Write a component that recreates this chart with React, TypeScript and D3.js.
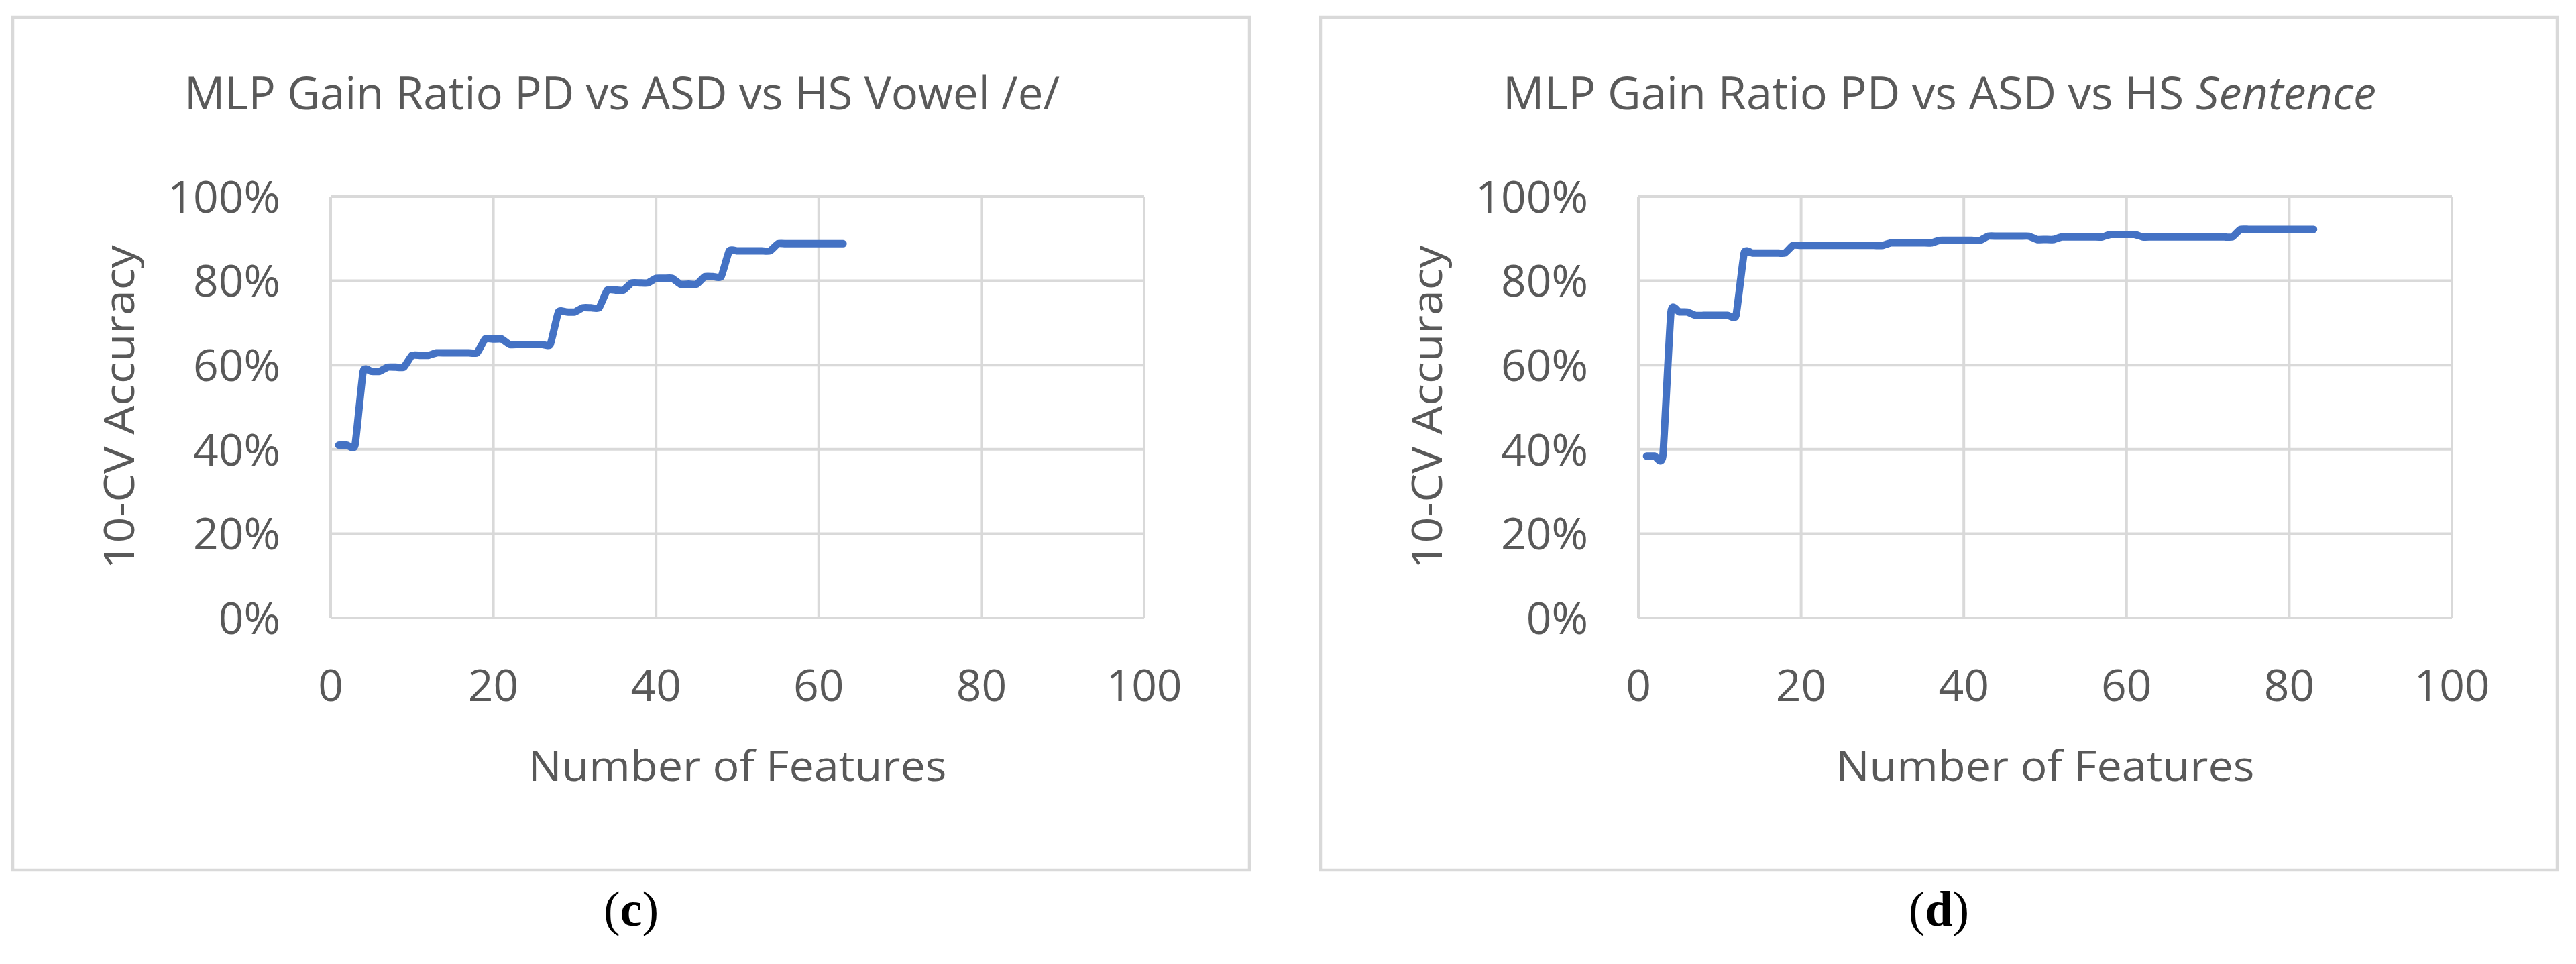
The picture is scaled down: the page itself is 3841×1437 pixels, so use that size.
import React from 'react';
import * as d3 from 'd3';

// 10-CV accuracy (%) for 1..N selected features
const vowelAccuracy = [
  41.0, 41.0, 41.0, 58.5, 58.5, 58.5, 59.5, 59.5, 59.5, 62.3,
  62.3, 62.3, 62.9, 62.9, 62.9, 62.9, 62.9, 62.9, 66.2, 66.2,
  66.2, 64.9, 64.9, 64.9, 64.9, 64.9, 64.9, 72.6, 72.6, 72.6,
  73.6, 73.6, 73.6, 77.8, 77.8, 77.8, 79.5, 79.5, 79.5, 80.6,
  80.6, 80.6, 79.2, 79.2, 79.2, 81.0, 81.0, 81.0, 87.1, 87.1,
  87.1, 87.1, 87.1, 87.1, 88.8, 88.8, 88.8, 88.8, 88.8, 88.8,
  88.8, 88.8, 88.8,
];

const sentenceAccuracy = [
  38.4, 38.4, 38.4, 72.6, 72.6, 72.6, 71.8, 71.8, 71.8, 71.8,
  71.8, 71.8, 86.6, 86.6, 86.6, 86.6, 86.6, 86.6, 88.4, 88.4,
  88.4, 88.4, 88.4, 88.4, 88.4, 88.4, 88.4, 88.4, 88.4, 88.4,
  89.0, 89.0, 89.0, 89.0, 89.0, 89.0, 89.6, 89.6, 89.6, 89.6,
  89.6, 89.6, 90.6, 90.6, 90.6, 90.6, 90.6, 90.6, 89.8, 89.8,
  89.8, 90.4, 90.4, 90.4, 90.4, 90.4, 90.4, 91.0, 91.0, 91.0,
  91.0, 90.4, 90.4, 90.4, 90.4, 90.4, 90.4, 90.4, 90.4, 90.4,
  90.4, 90.4, 90.4, 92.2, 92.2, 92.2, 92.2, 92.2, 92.2, 92.2,
  92.2, 92.2, 92.2,
];

const xTicks = [0, 20, 40, 60, 80, 100];
const yTicks = [0, 20, 40, 60, 80, 100];

const FONT = '"Open Sans", Calibri, sans-serif';
const TEXT = '#595959';
const GRID = '#d9d9d9';
const LINE = '#4472C4';

function Panel({ dx, data, title, titleX, titleLen, caption }) {
  const x = d3.scaleLinear().domain([0, 100]).range([493, 1706]);
  const y = d3.scaleLinear().domain([0, 100]).range([921, 293]);
  const pts = data.map((v, i) => [i + 1, v]);
  // excel-like smoothed line
  const line = d3.line()
    .x(d => x(d[0]))
    .y(d => y(d[1]))
    .curve(d3.curveCardinal.tension(0.55));

  return (
    <g transform={`translate(${dx},0)`}>
      <rect x={19} y={26} width={1844} height={1271} fill="#fff" stroke={GRID} strokeWidth={4.5} />
      <text x={titleX} y={163} fontFamily={FONT} fontSize={67} fill={TEXT}
        textLength={titleLen} lengthAdjust="spacingAndGlyphs">{title}</text>

      {yTicks.map(t => (
        <line key={'h' + t} x1={x(0)} x2={x(100)} y1={y(t)} y2={y(t)} stroke={GRID} strokeWidth={4} />
      ))}
      {xTicks.map(t => (
        <line key={'v' + t} x1={x(t)} x2={x(t)} y1={y(0)} y2={y(100)} stroke={GRID} strokeWidth={4} />
      ))}

      {yTicks.map(t => (
        <text key={'yl' + t} x={418} y={y(t)} dy="0.36em" textAnchor="end"
          fontFamily={FONT} fontSize={66} fill={TEXT}>{t + '%'}</text>
      ))}
      {xTicks.map(t => (
        <text key={'xl' + t} x={x(t)} y={1045} textAnchor="middle"
          fontFamily={FONT} fontSize={66} fill={TEXT}>{t}</text>
      ))}

      <text transform={`translate(200,${(y(0) + y(100)) / 2}) rotate(-90)`} textAnchor="middle"
        fontFamily={FONT} fontSize={63} fill={TEXT} textLength={483} lengthAdjust="spacingAndGlyphs">
        10-CV Accuracy
      </text>
      <text x={(x(0) + x(100)) / 2} y={1164} textAnchor="middle"
        fontFamily={FONT} fontSize={63} fill={TEXT} textLength={624} lengthAdjust="spacingAndGlyphs">
        Number of Features
      </text>

      <path d={line(pts)} fill="none" stroke={LINE} strokeWidth={11}
        strokeLinecap="round" strokeLinejoin="round" />

      <text x={941} y={1380} textAnchor="middle" fontFamily='"Liberation Serif", "Times New Roman", serif'
        fontSize={74} fill="#000">
        (<tspan fontWeight="bold">{caption}</tspan>)
      </text>
    </g>
  );
}

export default function App() {
  return (
    <svg width={3841} height={1437} style={{ position: 'absolute', left: 0, top: 0, background: '#fff' }}>
      <Panel dx={0} data={vowelAccuracy} titleX={275} titleLen={1305} caption="c"
        title={<tspan>MLP Gain Ratio PD vs ASD vs HS Vowel /e/</tspan>} />
      <Panel dx={1950} data={sentenceAccuracy} titleX={291} titleLen={1302} caption="d"
        title={<>
          <tspan>MLP Gain Ratio PD vs ASD vs HS </tspan>
          <tspan fontStyle="italic">Sentence</tspan>
        </>} />
    </svg>
  );
}
